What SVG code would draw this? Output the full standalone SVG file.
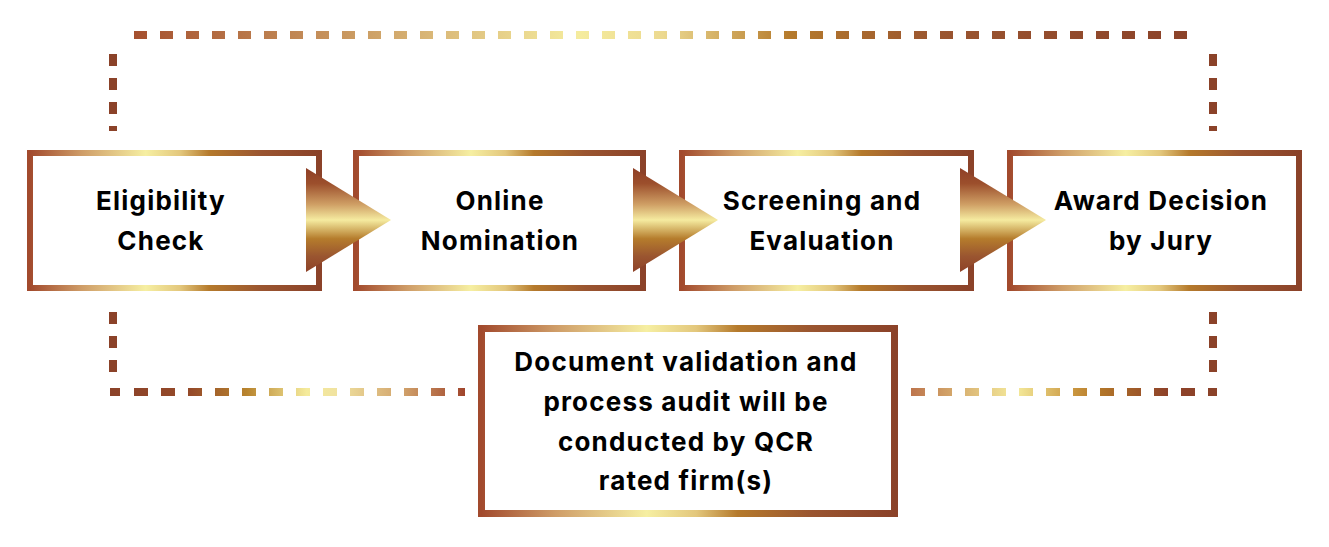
<svg xmlns="http://www.w3.org/2000/svg" width="1329" height="547" viewBox="0 0 1329 547">
  <defs>
    <linearGradient id="boxGrad" x1="0" y1="0" x2="1" y2="0">
      <stop offset="0" stop-color="#a24a2d"/>
      <stop offset="0.18" stop-color="#cf9d68"/>
      <stop offset="0.40" stop-color="#f6efa2"/>
      <stop offset="0.52" stop-color="#e3c77c"/>
      <stop offset="0.62" stop-color="#b57a2c"/>
      <stop offset="0.80" stop-color="#9a5530"/>
      <stop offset="1" stop-color="#8b4229"/>
    </linearGradient>
    <linearGradient id="triGrad" x1="0" y1="0" x2="0" y2="1">
      <stop offset="0" stop-color="#8f3f26"/>
      <stop offset="0.15" stop-color="#9c4f2c"/>
      <stop offset="0.35" stop-color="#cf9f65"/>
      <stop offset="0.50" stop-color="#f5eba0"/>
      <stop offset="0.68" stop-color="#b57c2c"/>
      <stop offset="0.85" stop-color="#9a5530"/>
      <stop offset="1" stop-color="#8e4228"/>
    </linearGradient>
    <linearGradient id="topGrad" gradientUnits="userSpaceOnUse" x1="134" y1="0" x2="1192" y2="0">
      <stop offset="0" stop-color="#a5502f"/>
      <stop offset="0.20" stop-color="#c99860"/>
      <stop offset="0.42" stop-color="#f5ec9e"/>
      <stop offset="0.50" stop-color="#ecd990"/>
      <stop offset="0.62" stop-color="#b57a2c"/>
      <stop offset="0.76" stop-color="#9a5530"/>
      <stop offset="1" stop-color="#8b4229"/>
    </linearGradient>
    <linearGradient id="blGrad" gradientUnits="userSpaceOnUse" x1="113" y1="0" x2="465" y2="0">
      <stop offset="0" stop-color="#8b4229"/>
      <stop offset="0.22" stop-color="#954a29"/>
      <stop offset="0.38" stop-color="#b8842e"/>
      <stop offset="0.55" stop-color="#f5eb9c"/>
      <stop offset="0.64" stop-color="#f0e2a0"/>
      <stop offset="0.82" stop-color="#d2a46c"/>
      <stop offset="1" stop-color="#a0452c"/>
    </linearGradient>
    <linearGradient id="brGrad" gradientUnits="userSpaceOnUse" x1="905" y1="0" x2="1213" y2="0">
      <stop offset="0" stop-color="#ba6e48"/>
      <stop offset="0.18" stop-color="#d8b070"/>
      <stop offset="0.36" stop-color="#f5eb9c"/>
      <stop offset="0.55" stop-color="#c9953e"/>
      <stop offset="0.64" stop-color="#b27529"/>
      <stop offset="0.85" stop-color="#8e4229"/>
      <stop offset="1" stop-color="#8b4229"/>
    </linearGradient>
  </defs>
  <style>
    .box { fill: #ffffff; stroke: url(#boxGrad); stroke-width: 6; }
    .tri { fill: url(#triGrad); }
    .lbl { font-family: Inter, "Liberation Sans", sans-serif; font-weight: 700; font-size: 26px; letter-spacing: 1.2px; fill: #000000; text-anchor: middle; }
    .dash { fill: none; stroke-width: 8; }
    .v { stroke: #8b4229; stroke-dasharray: 12 12; }
  </style>
  <rect width="1329" height="547" fill="#ffffff"/>
  <g id="connectors">
    <line class="dash v" x1="113" y1="54" x2="113" y2="131"/>
    <line class="dash" x1="134" y1="35" x2="1193" y2="35" stroke="url(#topGrad)" stroke-dasharray="13 13"/>
    <line class="dash v" x1="1213" y1="54" x2="1213" y2="131"/>
    <line class="dash v" x1="113" y1="312" x2="113" y2="384"/>
    <line class="dash" x1="110" y1="392" x2="465" y2="392" stroke="url(#blGrad)" stroke-dasharray="10 14 14 13 14 13 14 13 14 13 14 13 14 13 14 13 14 13 14 13 14 13 14 13 14 13 14 13"/>
    <line class="dash v" x1="1213" y1="312" x2="1213" y2="384"/>
    <line class="dash" x1="911" y1="392" x2="1217" y2="392" stroke="url(#brGrad)" stroke-dasharray="14 13"/>
  </g>
  <g id="node-eligibility">
    <rect class="box" x="30" y="153" width="289" height="135"/>
    <text class="lbl" x="161" y="210">Eligibility</text>
    <text class="lbl" x="161" y="250">Check</text>
  </g>
  <g id="node-nomination">
    <rect class="box" x="356" y="153" width="287" height="135"/>
    <text class="lbl" x="500" y="210">Online</text>
    <text class="lbl" x="500" y="250">Nomination</text>
  </g>
  <g id="node-screening">
    <rect class="box" x="682" y="153" width="289" height="135"/>
    <text class="lbl" x="822" y="210">Screening and</text>
    <text class="lbl" x="822" y="250">Evaluation</text>
  </g>
  <g id="node-award">
    <rect class="box" x="1010" y="153" width="289" height="135"/>
    <text class="lbl" x="1161" y="210">Award Decision</text>
    <text class="lbl" x="1161" y="250">by Jury</text>
  </g>
  <g id="arrows">
    <polygon class="tri" points="306,168 391,220 306,272"/>
    <polygon class="tri" points="633,168 718,220 633,272"/>
    <polygon class="tri" points="960,168 1046,220 960,272"/>
  </g>
  <g id="node-audit">
    <rect class="box" x="481.5" y="328.5" width="413" height="185" style="stroke-width:7"/>
    <text class="lbl" x="686" y="371">Document validation and</text>
    <text class="lbl" x="686" y="411">process audit will be</text>
    <text class="lbl" x="686" y="451">conducted by QCR</text>
    <text class="lbl" x="686" y="490">rated firm(s)</text>
  </g>
</svg>
